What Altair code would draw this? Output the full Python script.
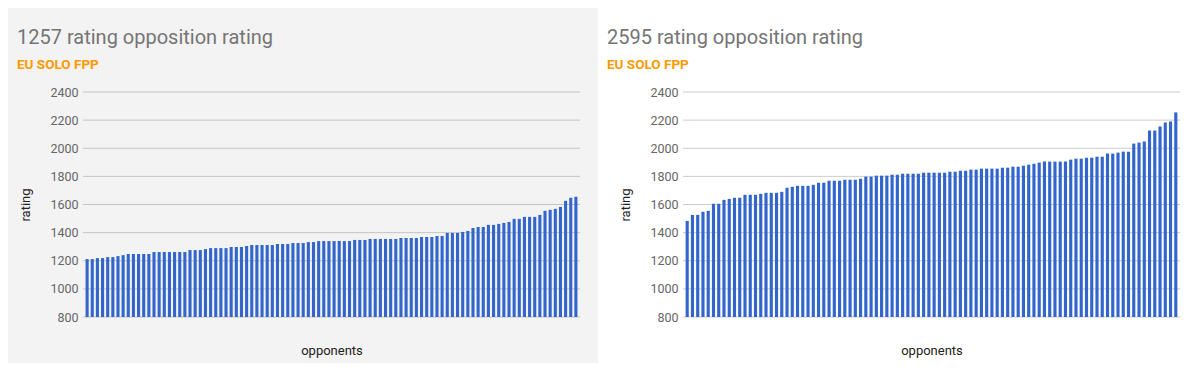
import altair as alt
import pandas as pd

left_title = "1257 rating opposition rating"
right_title = "2595 rating opposition rating"
subtitle = "EU SOLO FPP"

left_ratings = (
    [1212, 1212, 1219, 1219, 1226, 1226, 1233, 1240]
    + [1248] * 5 + [1262] * 7 + [1276] * 3 + [1283] + [1290] * 4 + [1298] * 3 + [1305]
    + [1312] * 5 + [1319] * 3 + [1326] * 3 + [1333] * 2 + [1340] * 7 + [1348] * 3
    + [1355] * 6 + [1362] * 4 + [1369] * 3 + [1376] * 2 + [1398] * 3
    + [1405, 1412, 1433, 1440, 1440, 1455, 1455, 1462, 1469, 1476, 1498, 1498,
       1512, 1512, 1512, 1526, 1555, 1562, 1569, 1583, 1626, 1648, 1655]
)

right_ratings = (
    [1483, 1526, 1526, 1548, 1555, 1605, 1605, 1633, 1640, 1648, 1648]
    + [1669] * 3 + [1676] + [1683] * 3 + [1690, 1719, 1726] + [1733] * 3 + [1740]
    + [1755] * 2 + [1769] * 3 + [1776] * 3 + [1783] + [1798] * 2 + [1805] * 3
    + [1812] * 2 + [1819] * 4 + [1826] * 5 + [1833] * 2 + [1840] * 2 + [1848] * 2
    + [1855] * 4 + [1862] * 2 + [1869] * 2 + [1876, 1883, 1890, 1898] + [1905] * 5
    + [1919] + [1926] * 2 + [1933] * 2 + [1940] * 2 + [1962] * 2 + [1969]
    + [1976] * 2 + [2033, 2040, 2048, 2126, 2126, 2155, 2183, 2190, 2255]
)

y_ticks = [800, 1000, 1200, 1400, 1600, 1800, 2000, 2200, 2400]

W, H = 497, 225
FONT = "Roboto"


def panel(title, values, bg, grid_color, left_pad, right_pad):
    df = pd.DataFrame({"idx": list(range(1, len(values) + 1)), "rating": values})
    ydom = alt.Scale(domain=[800, 2400], zero=False, nice=False)
    yaxis = alt.Axis(title="rating", values=y_ticks, format="d", grid=False,
                     domain=False, ticks=False, labelPadding=5,
                     labelFont=FONT, labelFontSize=12.5,
                     labelColor="#666666", titleFont=FONT,
                     titleFontSize=13, titleFontWeight="normal",
                     titleColor="#222222", titleX=-58,
                     titleY=H / 2, titleBaseline="middle",
                     titleAngle=270, zindex=1)

    background = alt.Chart(alt.Data(values=[{}])).mark_rect(color=bg).encode(
        x=alt.value(-left_pad), x2=alt.value(W + right_pad),
        y=alt.value(-84), y2=alt.value(H + 46),
    )
    t1 = alt.Chart(alt.Data(values=[{}])).mark_text(
        text=title, font=FONT, fontSize=20, color="#757575", align="left",
        baseline="alphabetic",
    ).encode(x=alt.value(-left_pad + 9), y=alt.value(-48))
    t2 = alt.Chart(alt.Data(values=[{}])).mark_text(
        text=subtitle, font=FONT, fontSize=13.5, fontWeight="bold", color="#ff9900",
        align="left", baseline="alphabetic",
    ).encode(x=alt.value(-left_pad + 9), y=alt.value(-23))

    grid = alt.Chart(pd.DataFrame({"v": y_ticks})).mark_rule(
        color=grid_color, strokeWidth=1
    ).encode(y=alt.Y("v:Q", scale=ydom, axis=yaxis))

    bars = alt.Chart(df).mark_bar(color="#3366cc").encode(
        x=alt.X("idx:O", sort="ascending",
                scale=alt.Scale(paddingInner=0.4, paddingOuter=0.5),
                axis=alt.Axis(title="opponents", labels=False, ticks=False,
                              domain=False, grid=False, titleFont=FONT,
                              titleFontSize=13, titleFontWeight="normal",
                              titleColor="#222222", titleY=33,
                              titleBaseline="middle", zindex=1)),
        y=alt.Y("rating:Q", scale=ydom, axis=yaxis),
        y2=alt.datum(800),
    )
    return alt.layer(background, t1, t2, grid, bars).properties(width=W, height=H)


left = panel(left_title, left_ratings, "#f3f3f3", "#c4c4c4", 75, 18)
right = panel(right_title, right_ratings, "#ffffff", "#cccccc", 85, 0)

chart = alt.hconcat(left, right, spacing=0).properties(
    padding=0, background="white"
).configure_view(stroke=None).configure_concat(spacing=0)

chart.save("out.html", embed_options={"renderer": "svg", "actions": False})
